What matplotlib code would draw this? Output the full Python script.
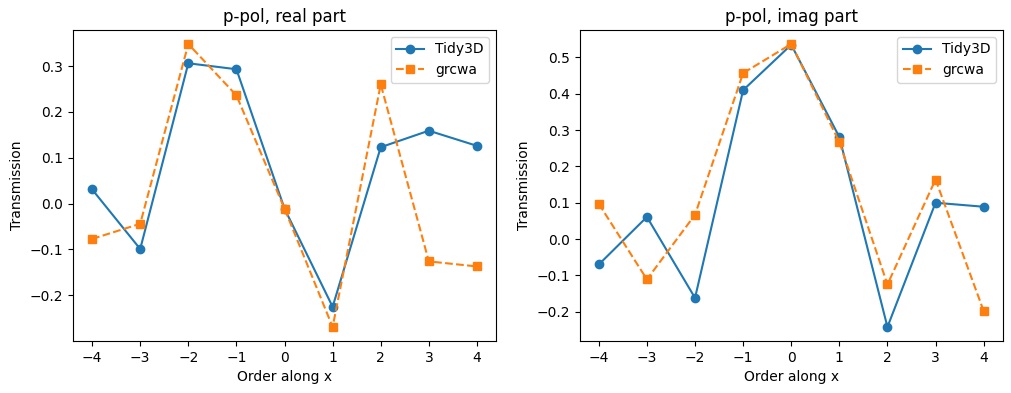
import numpy as np
import matplotlib
matplotlib.use("Agg")
import matplotlib.pyplot as plt

orders = [-4, -3, -2, -1, 0, 1, 2, 3, 4]

# real part
tidy_real = [0.031, -0.099, 0.306, 0.293, -0.011, -0.225, 0.123, 0.159, 0.126]
grcwa_real = [-0.077, -0.044, 0.348, 0.236, -0.011, -0.269, 0.260, -0.126, -0.137]

# imaginary part
tidy_imag = [-0.070, 0.061, -0.162, 0.410, 0.535, 0.281, -0.242, 0.100, 0.089]
grcwa_imag = [0.097, -0.111, 0.067, 0.457, 0.537, 0.267, -0.125, 0.164, -0.198]

titles = ["p-pol, real part", "p-pol, imag part"]

fig, axes = plt.subplots(1, 2, figsize=(10.12, 3.93), dpi=100)
fig.subplots_adjust(left=0.072, right=0.991, bottom=0.132, top=0.924, wspace=0.197)

for ax, t, g, title in zip(axes, [tidy_real, tidy_imag], [grcwa_real, grcwa_imag], titles):
    ax.plot(orders, t, "o-", label="Tidy3D")
    ax.plot(orders, g, "s--", label="grcwa")
    ax.set_title(title)
    ax.set_xlabel("Order along x")
    ax.set_ylabel("Transmission")
    ax.set_xticks(orders)
    ax.legend()

fig.savefig("out.png")
